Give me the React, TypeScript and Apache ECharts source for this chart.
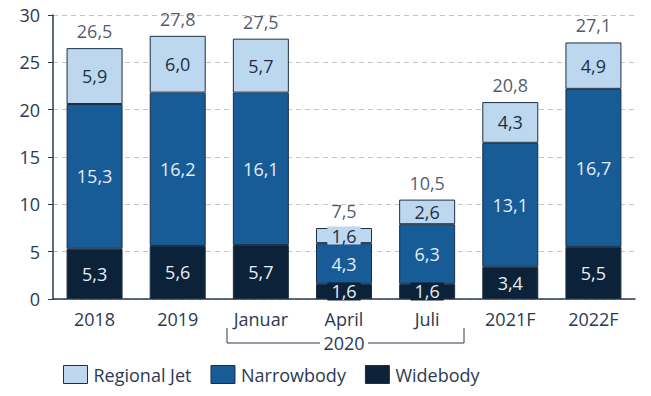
import React, { useEffect, useRef } from "react";
import * as echarts from "echarts";

const categories = ["2018", "2019", "Januar", "April", "Juli", "2021F", "2022F"];
const widebody = [5.3, 5.6, 5.7, 1.6, 1.6, 3.4, 5.5];
const narrowbody = [15.3, 16.2, 16.1, 4.3, 6.3, 13.1, 16.7];
const regionalJet = [5.9, 6.0, 5.7, 1.6, 2.6, 4.3, 4.9];
const totals = [26.5, 27.8, 27.5, 7.5, 10.5, 20.8, 27.1];
const yTicks = [0, 5, 10, 15, 20, 25, 30];
const groupLabel = "2020";

const FONT = "'Open Sans', 'Noto Sans', sans-serif";
const FS = 18;
const TEXT = "#2a3a52";
const C_LIGHT = "#bdd7ee";
const C_MID = "#175b97";
const C_DARK = "#0b2239";
const BORDER = "#1c2f47";

const fmt = (v: number) => v.toFixed(1).replace(".", ",");

export default function App() {
  const ref = useRef<HTMLDivElement>(null);
  useEffect(() => {
    if (!ref.current) return;
    const chart = echarts.init(ref.current, undefined, { renderer: "svg" });
    const seg = (name: string, data: number[], color: string, textColor: string) => ({
      name,
      type: "bar",
      stack: "total",
      barWidth: 56,
      data,
      itemStyle: { color, borderColor: BORDER, borderWidth: 1 },
      label: {
        show: true,
        position: "inside",
        formatter: (p: any) => fmt(p.value),
        color: textColor,
        fontFamily: FONT,
        fontSize: FS,
        lineHeight: 18,
        backgroundColor: color,
        padding: [0, 4, 0, 4],
      },
    });
    chart.setOption({
      animation: false,
      grid: { left: 53, right: 16, top: 15, bottom: 97, containLabel: false },
      legend: {
        data: ["Regional Jet", "Narrowbody", "Widebody"],
        left: 58,
        top: 360,
        itemWidth: 24,
        itemHeight: 18,
        itemGap: 19,
        icon: "rect",
        textStyle: { color: TEXT, fontFamily: FONT, fontSize: FS, padding: [0, 0, 0, 1] },
        itemStyle: { borderColor: BORDER, borderWidth: 1 },
      },
      xAxis: {
        type: "category",
        data: categories,
        axisLine: { lineStyle: { color: TEXT, width: 1.5 } },
        axisTick: { show: false },
        axisLabel: { color: TEXT, fontFamily: FONT, fontSize: FS, margin: 11 },
      },
      yAxis: {
        type: "value",
        min: yTicks[0],
        max: yTicks[yTicks.length - 1],
        interval: 5,
        axisLine: { show: true, lineStyle: { color: TEXT, width: 1.5 } },
        axisTick: { show: true, length: 5, lineStyle: { color: TEXT } },
        axisLabel: { color: TEXT, fontFamily: FONT, fontSize: FS, margin: 13 },
        splitLine: { lineStyle: { color: "#c4c4c4", type: [5, 4] } },
      },
      series: [
        seg("Widebody", widebody, C_DARK, "#e6edf5"),
        seg("Narrowbody", narrowbody, C_MID, "#e6edf5"),
        seg("Regional Jet", regionalJet, C_LIGHT, "#1f2f45"),
        {
          name: "Total",
          type: "scatter",
          data: totals,
          symbolSize: 0,
          label: {
            show: true,
            position: "top",
            distance: 8,
            lineHeight: 18,
            formatter: (p: any) => fmt(p.value),
            color: "#1f2f45",
            fontFamily: FONT,
            fontSize: FS,
          },
        },
      ],
      graphic: [
        {
          type: "polyline",
          shape: { points: [[227, 328], [227, 343], [320, 343]] },
          style: { stroke: TEXT, lineWidth: 1, fill: "none" },
        },
        {
          type: "polyline",
          shape: { points: [[368, 343], [464, 343], [464, 328]] },
          style: { stroke: TEXT, lineWidth: 1, fill: "none" },
        },
        {
          type: "text",
          x: 344,
          y: 343,
          style: {
            text: groupLabel,
            fill: TEXT,
            font: `${FS}px ${FONT}`,
            align: "center",
            verticalAlign: "middle",
          },
        },
      ],
    });
    return () => chart.dispose();
  }, []);
  return <div ref={ref} style={{ width: 651, height: 396, position: "absolute", left: 0, top: 0 }} />;
}
